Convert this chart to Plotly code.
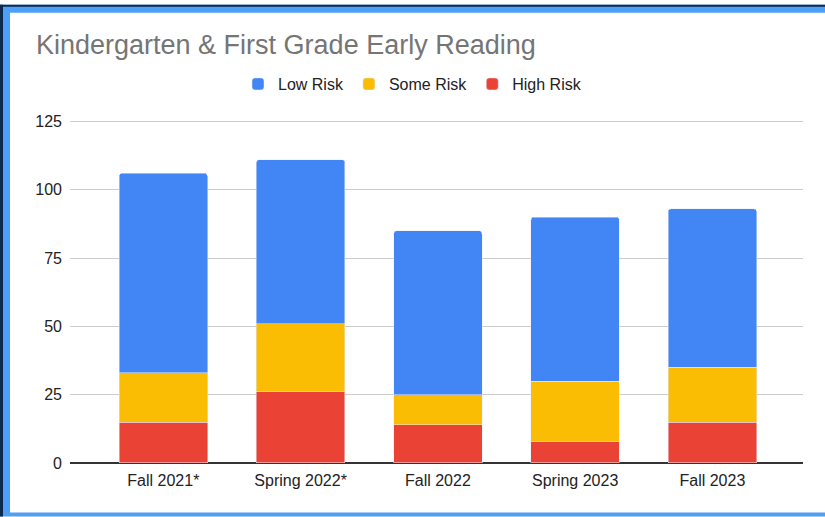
import plotly.graph_objects as go

categories = ["Fall 2021*", "Spring 2022*", "Fall 2022", "Spring 2023", "Fall 2023"]
high_risk = [15, 26, 14, 8, 15]
some_risk = [18, 25, 11, 22, 20]
low_risk = [73, 60, 60, 60, 58]
y_ticks = [0, 25, 50, 75, 100, 125]

W, H = 825, 517
L, R, T, B = 70, 22, 115, 54
pw, ph = W - L - R, H - T - B


def px(x):
    return (x - L) / pw


def py(y):
    return (H - B - y) / ph


fig = go.Figure()
fig.add_trace(go.Bar(name="High Risk", x=categories, y=high_risk, marker_color="#EA4335", showlegend=False))
fig.add_trace(go.Bar(name="Some Risk", x=categories, y=some_risk, marker_color="#FBBC04", showlegend=False))
fig.add_trace(go.Bar(name="Low Risk", x=categories, y=low_risk, marker_color="#4285F4", showlegend=False))
# legend entries in display order
for name, col in [("Low Risk", "#4285F4"), ("Some Risk", "#FBBC04"), ("High Risk", "#EA4335")]:
    fig.add_trace(go.Bar(name=name, x=[categories[0]], y=[None], marker_color=col, showlegend=True))

shapes = [
    dict(type="rect", xref="paper", yref="paper", x0=px(0), x1=px(W), y0=py(0), y1=py(H),
         fillcolor="#4d9ff7", line_width=0, layer="below"),
    dict(type="rect", xref="paper", yref="paper", x0=px(0), x1=px(3), y0=py(0), y1=py(H),
         fillcolor="#0c2a4c", line_width=0, layer="below"),
    dict(type="rect", xref="paper", yref="paper", x0=px(0), x1=px(W), y0=py(0), y1=py(2),
         fillcolor="#0c2a4c", line_width=0, layer="below"),
    dict(type="rect", xref="paper", yref="paper", x0=px(10), x1=px(W), y0=py(8), y1=py(513),
         fillcolor="#ffffff", line_width=0, layer="below"),
]

fig.update_layout(
    width=W, height=H,
    margin=dict(l=L, r=R, t=T, b=B, pad=0),
    barmode="stack",
    bargap=0.356,
    barcornerradius=3,
    paper_bgcolor="#ffffff",
    plot_bgcolor="rgba(0,0,0,0)",
    font=dict(family="Liberation Sans, Arial, sans-serif", size=16, color="#222222"),
    title=dict(text="Kindergarten & First Grade Early Reading", x=36 / W, xref="container",
               xanchor="left", y=1 - 45 / H, yref="container", yanchor="middle",
               font=dict(size=27, color="#757575")),
    legend=dict(orientation="h", x=0.5, xref="container", xanchor="center",
                y=1 - 84 / H, yref="container", yanchor="middle",
                font=dict(size=16, color="#222222"), traceorder="normal",
                itemclick=False, bgcolor="rgba(0,0,0,0)"),
    shapes=shapes,
    xaxis=dict(range=[-0.68, 4.66], showgrid=False, zeroline=False, showline=False,
               ticks="", ticklabelstandoff=6, tickfont=dict(size=16, color="#222222"), fixedrange=True),
    yaxis=dict(range=[0, 126], tickvals=y_ticks, showgrid=True, gridcolor="#cccccc", gridwidth=1,
               zeroline=True, zerolinecolor="#333333", zerolinewidth=1.5, showline=False,
               ticks="", ticklabelstandoff=7, tickfont=dict(size=16, color="#222222"), fixedrange=True),
)

fig.write_html("out.html", config={"displayModeBar": False},
               post_script="document.body.style.margin='0';document.body.style.overflow='hidden';")
